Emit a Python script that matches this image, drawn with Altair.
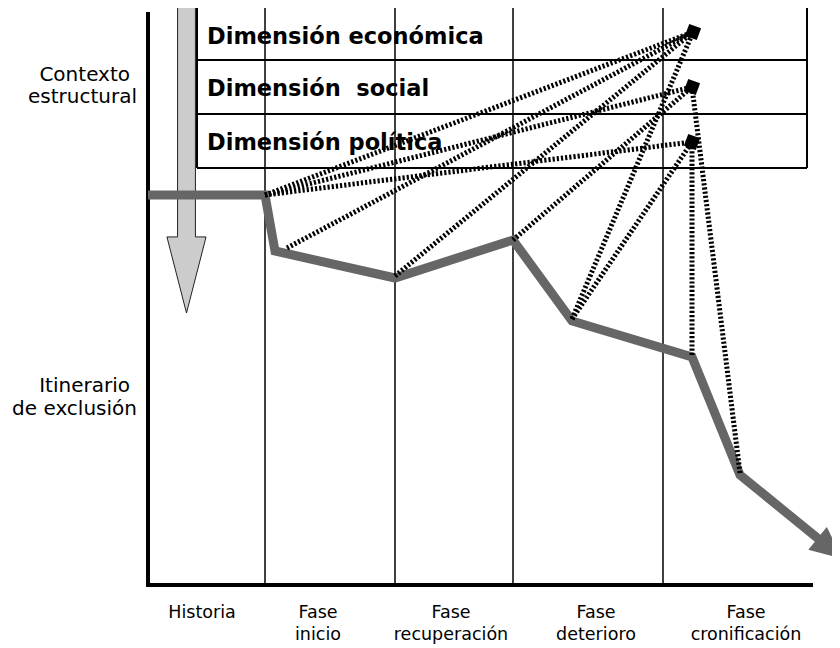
import altair as alt
import pandas as pd

# ---------------- data (screen-pixel coordinate system) ----------------
W, H = 824, 638
X0, Y0 = 8, 8

phase_x = [265, 395, 513, 663]
phase_top = [5, 5, 5, 5]
phase_bottom = [585, 585, 585, 585]

table_rows_y = [5, 60, 114, 168]
table_left = 197
table_right = 807

axis_x = [148]
axis_y = [585]

# itinerary (thick grey path)
path_x = [148, 265, 275, 395, 513, 572, 692, 740, 826]
path_y = [195, 195, 251, 278, 240, 321, 357, 475, 545]

# arrow head of itinerary
head_x = [830]
head_y = [548.5]
head_angle = [39]

# structural-context arrow (centre of shape)
ctx_x = [186.5]
ctx_y = [159]

# dimension markers
dim_names = ["económica", "social", "política"]
dim_x = [693, 692, 692]
dim_y = [32, 87, 142]

# dotted links: start point -> dimension index
link_x = [265, 265, 265, 287, 395, 513, 572, 572, 692, 740]
link_y = [195, 195, 195, 248, 276, 240, 319, 319, 355, 473]
link_dim = [0, 1, 2, 0, 0, 1, 0, 2, 2, 1]

table_text = ["Dimensión económica", "Dimensión\u00a0\u00a0social", "Dimensión política"]
table_text_x = [207, 207, 207]
table_text_y = [44, 96, 150]

left_text = ["Contexto", "estructural", "Itinerario", "de exclusión"]
left_text_x = [130, 137, 130, 137]
left_text_y = [81, 103, 392, 415]

bottom_text = ["Historia", "Fase", "inicio", "Fase", "recuperación", "Fase", "deterioro", "Fase", "cronificación"]
bottom_text_x = [202, 318, 318, 451, 451, 596, 596, 746, 746]
bottom_text_y = [618, 618, 640, 618, 640, 618, 640, 618, 640]

# ---------------- scales ----------------
xs = alt.Scale(domain=[X0, X0 + W], nice=False, zero=False)
ys = alt.Scale(domain=[Y0, Y0 + H], nice=False, zero=False, reverse=True)


def X(f="x"):
    return alt.X(f"{f}:Q", scale=xs, axis=None)


def Y(f="y"):
    return alt.Y(f"{f}:Q", scale=ys, axis=None)


# context arrow as one polygon shape
arrow_shape = ("M-0.058,-1 L0.058,-1 L0.058,0.506 L0.127,0.506 L0,1 "
               "L-0.127,0.506 L-0.058,0.506 Z")
ctx = alt.Chart(pd.DataFrame({"x": ctx_x, "y": ctx_y})).mark_point(
    shape=arrow_shape, size=308 * 308, filled=True, fill="#cccccc",
    stroke="#222222", strokeWidth=1, opacity=1
).encode(x=X(), y=Y())

phases = alt.Chart(pd.DataFrame({"x": phase_x, "y": phase_top, "y2": phase_bottom})).mark_rule(
    color="black", strokeWidth=1.5
).encode(x=X(), y=Y(), y2="y2:Q")

rows = alt.Chart(pd.DataFrame({"y": table_rows_y,
                               "x": [177, table_left, table_left, table_left],
                               "x2": [table_right] * 4})).mark_rule(
    color="black", strokeWidth=2
).encode(x=X(), x2="x2:Q", y=Y())

cols = alt.Chart(pd.DataFrame({"x": [table_left, table_right],
                               "y": [table_rows_y[0]] * 2,
                               "y2": [table_rows_y[-1]] * 2})).mark_rule(
    color="black", strokeWidth=2
).encode(x=X(), y=Y(), y2="y2:Q")

vaxis = alt.Chart(pd.DataFrame({"x": axis_x, "y": [12], "y2": [587]})).mark_rule(
    color="black", strokeWidth=4
).encode(x=X(), y=Y(), y2="y2:Q")

haxis = alt.Chart(pd.DataFrame({"y": axis_y, "x": [146], "x2": [813]})).mark_rule(
    color="black", strokeWidth=4
).encode(x=X(), x2="x2:Q", y=Y())

itin = alt.Chart(pd.DataFrame({"x": path_x, "y": path_y, "o": list(range(len(path_x)))})).mark_line(
    color="#666666", strokeWidth=9, strokeJoin="miter", strokeCap="butt"
).encode(x=X(), y=Y(), order="o:Q")

head = alt.Chart(pd.DataFrame({"x": head_x, "y": head_y, "a": head_angle})).mark_point(
    shape="M-1,-0.92 L1,0 L-1,0.92 Z", size=1024, filled=True, color="#666666", opacity=1
).encode(x=X(), y=Y(), angle=alt.Angle("a:Q", scale=None))

ttext = alt.Chart(pd.DataFrame({"x": table_text_x, "y": table_text_y, "t": table_text})).mark_text(
    align="left", baseline="alphabetic", font="DejaVu Sans", fontWeight="bold", fontSize=22.5, color="black"
).encode(x=X(), y=Y(), text="t:N")

ltext = alt.Chart(pd.DataFrame({"x": left_text_x, "y": left_text_y, "t": left_text})).mark_text(
    align="right", baseline="alphabetic", font="DejaVu Sans", fontSize=20, color="black"
).encode(x=X(), y=Y(), text="t:N")

btext = alt.Chart(pd.DataFrame({"x": bottom_text_x, "y": bottom_text_y, "t": bottom_text})).mark_text(
    align="center", baseline="alphabetic", font="DejaVu Sans", fontSize=17.5, color="black"
).encode(x=X(), y=Y(), text="t:N")

links_df = pd.DataFrame({
    "x": link_x, "y": link_y,
    "x2": [dim_x[i] for i in link_dim],
    "y2": [dim_y[i] for i in link_dim],
})
links = alt.Chart(links_df).mark_rule(
    color="black", strokeWidth=5, strokeDash=[2.2, 2]
).encode(x=X(), y=Y(), x2="x2:Q", y2="y2:Q")

dims = alt.Chart(pd.DataFrame({"x": dim_x, "y": dim_y, "d": dim_names})).mark_point(
    shape="square", size=160, filled=True, color="black", opacity=1, angle=20
).encode(x=X(), y=Y())

chart = alt.layer(
    ctx, phases, rows, cols, vaxis, haxis, itin, head, ttext, ltext, btext, links, dims
).properties(
    width=W, height=H, padding=0, autosize=alt.AutoSizeParams(type="none")
).configure_view(stroke=None)

chart.save("out.html", embed_options={"renderer": "svg", "actions": False})
